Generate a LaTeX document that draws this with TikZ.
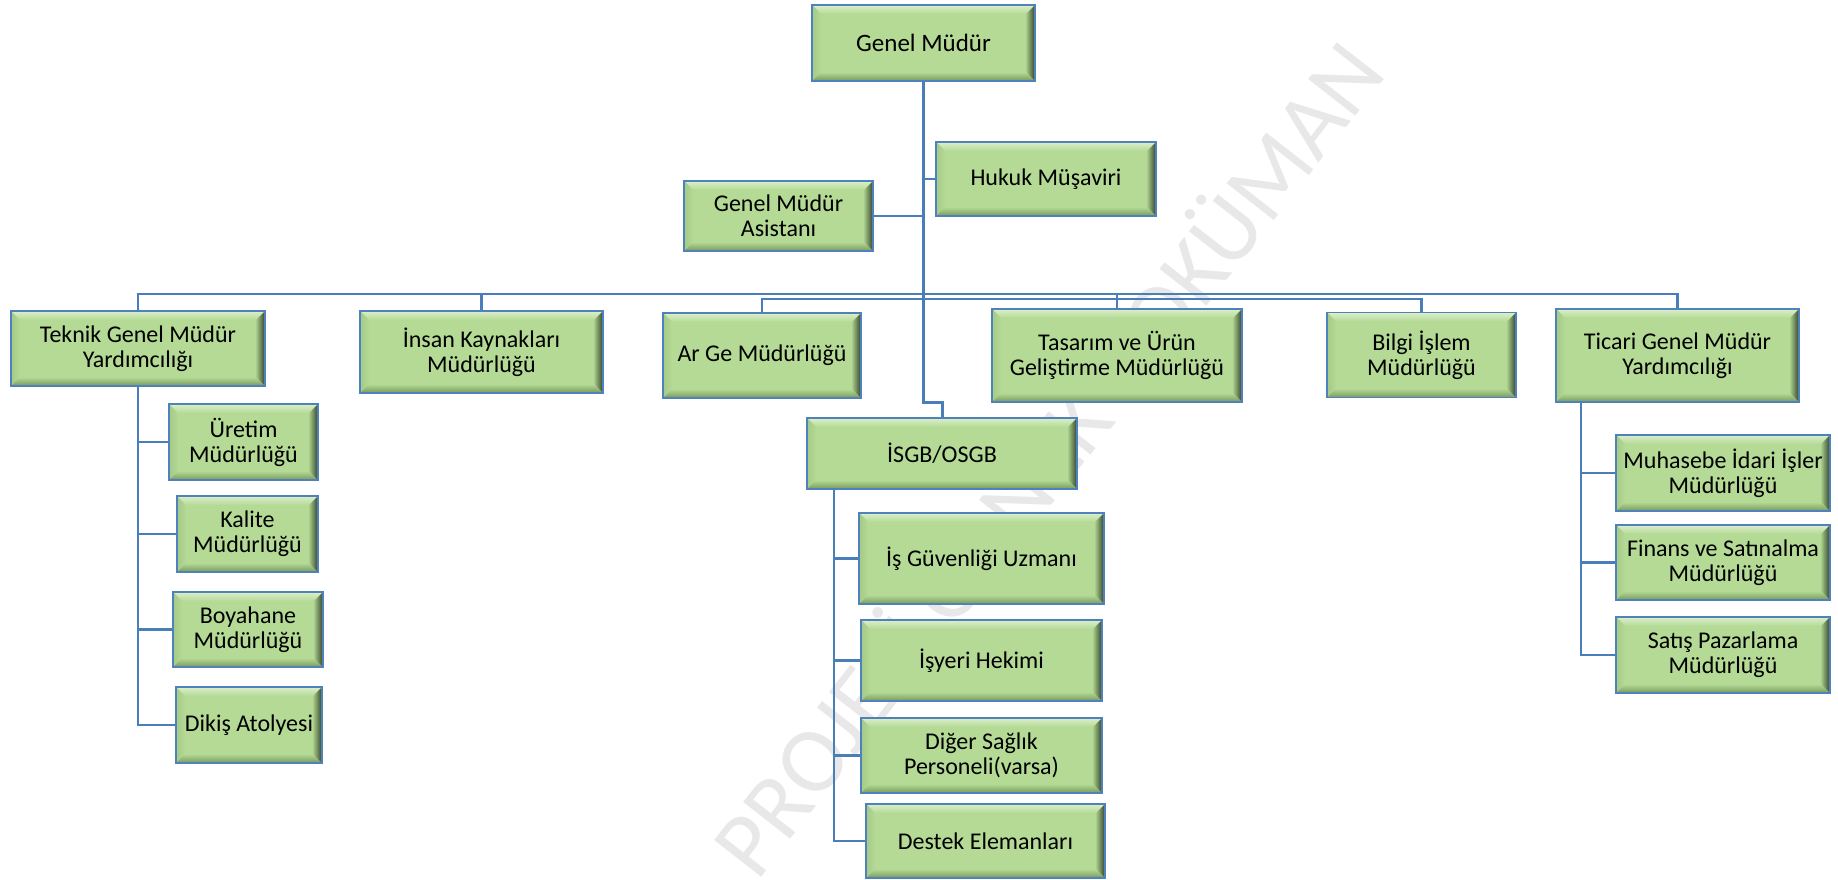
\documentclass[tikz,border=0pt]{standalone}
\usepackage{fontspec}
\setmainfont{Carlito}
\usetikzlibrary{calc,backgrounds}

\definecolor{boxfill}{HTML}{B4DA96}
\definecolor{bvtop}{HTML}{DCEFCC}
\definecolor{bvleft}{HTML}{A5C986}
\definecolor{bvbottom}{HTML}{789A5C}
\definecolor{bvright}{HTML}{33422A}
\definecolor{boxline}{HTML}{4F81BD}
\definecolor{linecol}{HTML}{4A7EBB}
\definecolor{wmark}{HTML}{E8E8E8}

\tikzset{
  bevelbox/.style={
    draw=boxline, line width=1.8pt, fill=boxfill, align=center,
    inner sep=0pt, text=black, font=\fontsize{24pt}{25pt}\selectfont,
    path picture={
      \coordinate (pNW) at (path picture bounding box.north west);
      \coordinate (pNE) at (path picture bounding box.north east);
      \coordinate (pSW) at (path picture bounding box.south west);
      \coordinate (pSE) at (path picture bounding box.south east);
      % bevel: lit top and left, shaded bottom and right
      \shade[top color=bvtop, bottom color=boxfill]
        (pNW) -- (pNE) -- ($(pNE)+(-9pt,-9pt)$) -- ($(pNW)+(9pt,-9pt)$) -- cycle;
      \shade[left color=bvleft, right color=boxfill]
        (pNW) -- ($(pNW)+(9pt,-9pt)$) -- ($(pSW)+(9pt,9pt)$) -- (pSW) -- cycle;
      \shade[top color=boxfill, bottom color=bvbottom]
        (pSW) -- (pSE) -- ($(pSE)+(-9pt,9pt)$) -- ($(pSW)+(9pt,9pt)$) -- cycle;
      \shade[left color=boxfill!80!bvbottom, right color=bvright]
        (pNE) -- (pSE) -- ($(pSE)+(-9pt,9pt)$) -- ($(pNE)+(-9pt,-9pt)$) -- cycle;
    }
  },
  conn/.style={draw=linecol, line width=2.6pt},
  trunk/.style={draw=linecol, line width=3pt},
  wm/.style={text=wmark, font=\fontsize{93pt}{93pt}\selectfont}
}

\begin{document}
\begin{tikzpicture}[x=1pt, y=-1pt]
\useasboundingbox (0,0) rectangle (1838,880);

% top level
\node[bevelbox, minimum width=223pt, minimum height=76pt,
      font=\fontsize{25pt}{26pt}\selectfont] (gm) at (923.5,43) {Genel Müdür};
\node[bevelbox, minimum width=220pt, minimum height=74pt] (hukuk) at (1046,179) {Hukuk Müşaviri};
\node[bevelbox, minimum width=189pt, minimum height=70pt] (asist) at (778.5,216) {Genel Müdür\\Asistanı};

% second level
\node[bevelbox, minimum width=254pt, minimum height=75pt] (teknik) at (138,348.5) {Teknik Genel Müdür\\Yardımcılığı};
\node[bevelbox, minimum width=243pt, minimum height=82pt] (insan) at (481.5,352) {İnsan Kaynakları\\Müdürlüğü};
\node[bevelbox, minimum width=198pt, minimum height=85pt] (arge) at (762,355.5) {Ar Ge Müdürlüğü};
\node[bevelbox, minimum width=250pt, minimum height=93pt] (tasarim) at (1117,355.5) {Tasarım ve Ürün\\Geliştirme Müdürlüğü};
\node[bevelbox, minimum width=189pt, minimum height=85pt] (bilgi) at (1421.5,355) {Bilgi İşlem\\Müdürlüğü};
\node[bevelbox, minimum width=243pt, minimum height=93pt] (ticari) at (1677.5,355.5) {Ticari Genel Müdür\\Yardımcılığı};
\node[bevelbox, minimum width=270pt, minimum height=71pt] (isgb) at (942,453.5) {İSGB/OSGB};

% technical branch
\node[bevelbox, minimum width=149pt, minimum height=76pt] (uretim) at (243.5,442) {Üretim\\Müdürlüğü};
\node[bevelbox, minimum width=141pt, minimum height=76pt] (kalite) at (247.5,534) {Kalite\\Müdürlüğü};
\node[bevelbox, minimum width=150pt, minimum height=75pt] (boya) at (248,629.5) {Boyahane\\Müdürlüğü};
\node[bevelbox, minimum width=146pt, minimum height=76pt] (dikis) at (249,725) {Dikiş Atolyesi};

% health and safety branch
\node[bevelbox, minimum width=245pt, minimum height=91pt] (isgu) at (981.5,558.5) {İş Güvenliği Uzmanı};
\node[bevelbox, minimum width=241pt, minimum height=81pt] (isyeri) at (981.5,660.5) {İşyeri Hekimi};
\node[bevelbox, minimum width=241pt, minimum height=75pt] (diger) at (981.5,755.5) {Diğer Sağlık\\Personeli(varsa)};
\node[bevelbox, minimum width=239pt, minimum height=74pt] (destek) at (985.5,841) {Destek Elemanları};

% commercial branch
\node[bevelbox, minimum width=214pt, minimum height=76pt] (muhasebe) at (1723,473) {Muhasebe İdari İşler\\Müdürlüğü};
\node[bevelbox, minimum width=214pt, minimum height=75pt] (finans) at (1723,562.5) {Finans ve Satınalma\\Müdürlüğü};
\node[bevelbox, minimum width=214pt, minimum height=76pt] (satis) at (1723,655) {Satış Pazarlama\\Müdürlüğü};

\begin{scope}[on background layer]
  \fill[white] (0,0) rectangle (1838,880);
  \node[wm, rotate=52] (mark) at (1043,455) {PROJESİ ÖRNEK DOKÜMAN};

  % trunk from the general manager down to İSGB/OSGB
  \draw[trunk] (gm.south) |- ($(isgb.north)+(0pt,15pt)$) -- (isgb.north);
  \draw[conn] (hukuk.west) -- (hukuk.west -| gm.south);
  \draw[conn] (asist.east) -- (asist.east -| gm.south);

  % department buses
  \coordinate (busU) at (924,294);
  \coordinate (busL) at (924,299);
  \draw[conn] (teknik.north) |- (busU) -| (ticari.north);
  \draw[conn] (insan.north) -- (insan.north |- busU);
  \draw[conn] (tasarim.north) -- (tasarim.north |- busU);
  \draw[conn] (arge.north) |- (busL) -| (bilgi.north);

  % technical sub-units
  \draw[conn] (teknik.south) |- (dikis.west);
  \foreach \n in {uretim,kalite,boya}
    \draw[conn] (\n.west) -- (\n.west -| teknik.south);

  % health and safety sub-units
  \coordinate (isgbv) at ($(isgb.south west)+(28pt,0pt)$);
  \draw[conn] (isgbv) |- (destek.west);
  \foreach \n in {isgu,isyeri,diger}
    \draw[conn] (\n.west) -- (\n.west -| isgbv);

  % commercial sub-units
  \coordinate (ticv) at ($(ticari.south west)+(26pt,0pt)$);
  \draw[conn] (ticv) |- (satis.west);
  \foreach \n in {muhasebe,finans}
    \draw[conn] (\n.west) -- (\n.west -| ticv);
\end{scope}
\end{tikzpicture}
\end{document}
